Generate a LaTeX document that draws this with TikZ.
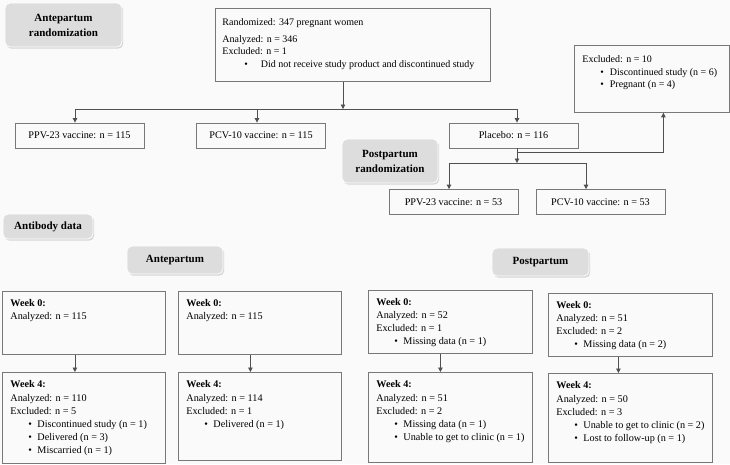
\documentclass[tikz,border=0pt]{standalone}
\usepackage{fontspec}
\setmainfont{Liberation Serif}
\usetikzlibrary{arrows.meta,shadows}

\begin{document}
\begin{tikzpicture}[x=1pt,y=-1pt,
	box/.style={draw=boxgray, line width=0.8pt, anchor=north west, inner xsep=8pt, inner ysep=8pt, font=\fontsize{10.2}{13}\selectfont},
	single/.style={draw=boxgray, line width=0.8pt, minimum width=129pt, minimum height=25pt, inner sep=0pt, font=\fontsize{10.2}{12}\selectfont},
	tag/.style={fill=tagfill, draw=white, line width=0.8pt, rounded corners=5pt, align=center, inner sep=0pt, font=\fontsize{11}{15}\selectfont\bfseries, drop shadow={shadow xshift=1.2pt, shadow yshift=-1.6pt, opacity=0.3}},
	link/.style={draw=linegray, line width=0.8pt, -{Triangle[length=4.5pt,width=4.5pt]}}]
	\definecolor{bgcol}{RGB}{250,250,250}
	\definecolor{tagfill}{RGB}{221,221,221}
	\definecolor{boxgray}{RGB}{120,120,120}
	\definecolor{linegray}{RGB}{80,80,80}

	\fill[bgcol] (0,0) rectangle (730,464);
	\useasboundingbox (0,0) rectangle (730,464);

	\node[tag, minimum width=117pt, minimum height=44pt] (anterand) at (63.5,25) {Antepartum\\randomization};
	\node[tag, minimum width=96pt, minimum height=44pt] (postrand) at (390,161) {Postpartum\\randomization};
	\node[tag, minimum width=90pt, minimum height=25pt] (antibody) at (48,226.5) {Antibody data};
	\node[tag, minimum width=96pt, minimum height=28pt] (ante) at (175,260) {Antepartum};
	\node[tag, minimum width=97pt, minimum height=28pt] (post) at (540.5,262) {Postpartum};

	\node[box, inner xsep=7pt, inner ysep=10.5pt, font=\fontsize{10}{12.5}\selectfont] (rand) at (215,8) {\parbox[t][52pt][t]{261pt}{Randomized: 347 pregnant women\\[4pt]
		Analyzed: n = 346\\
		Excluded: n = 1\\
		\hspace*{22pt}\textbullet\hspace{13pt}Did not receive study product and discontinued study}};
	\node[box, inner ysep=10.5pt, font=\fontsize{10}{12.5}\selectfont] (excl) at (574,45) {\parbox[t][46pt][t]{139pt}{Excluded: n = 10\\
		\hspace*{18pt}\textbullet\hspace{6pt}Discontinued study (n = 6)\\
		\hspace*{18pt}\textbullet\hspace{6pt}Pregnant (n = 4)}};

	\node[single] (ppv) at (79.5,135.5) {PPV-23 vaccine: n = 115};
	\node[single] (pcv) at (261,135.5) {PCV-10 vaccine: n = 115};
	\node[single] (plac) at (513.5,135.5) {Placebo: n = 116};
	\node[single] (ppvpost) at (453.5,202) {PPV-23 vaccine: n = 53};
	\node[single] (pcvpost) at (600.5,202) {PCV-10 vaccine: n = 53};

	\node[box] (wka0) at (2,291) {\parbox[t][47pt][t]{147pt}{\textbf{Week 0:}\\
		Analyzed: n = 115}};
	\node[box] (wkb0) at (178,291) {\parbox[t][47pt][t]{147pt}{\textbf{Week 0:}\\
		Analyzed: n = 115}};
	\node[box] (wkc0) at (368,290) {\parbox[t][47pt][t]{148pt}{\textbf{Week 0:}\\
		Analyzed: n = 52\\
		Excluded: n = 1\\
		\hspace*{18pt}\textbullet\hspace{5.5pt}Missing data (n = 1)}};
	\node[box] (wkd0) at (548,293) {\parbox[t][47pt][t]{148pt}{\textbf{Week 0:}\\
		Analyzed: n = 51\\
		Excluded: n = 2\\
		\hspace*{18pt}\textbullet\hspace{5.5pt}Missing data (n = 2)}};

	\node[box] (wka4) at (2,372) {\parbox[t][75pt][t]{147pt}{\textbf{Week 4:}\\[1pt]
		Analyzed: n = 110\\
		Excluded: n = 5\\
		\hspace*{18pt}\textbullet\hspace{5.5pt}Discontinued study (n = 1)\\
		\hspace*{18pt}\textbullet\hspace{5.5pt}Delivered (n = 3)\\
		\hspace*{18pt}\textbullet\hspace{5.5pt}Miscarried (n = 1)}};
	\node[box] (wkb4) at (178,372) {\parbox[t][72pt][t]{147pt}{\textbf{Week 4:}\\[1pt]
		Analyzed: n = 114\\
		Excluded: n = 1\\
		\hspace*{18pt}\textbullet\hspace{5.5pt}Delivered (n = 1)}};
	\node[box] (wkc4) at (368,372) {\parbox[t][74pt][t]{148pt}{\textbf{Week 4:}\\[1pt]
		Analyzed: n = 51\\
		Excluded: n = 2\\
		\hspace*{18pt}\textbullet\hspace{5.5pt}Missing data (n = 1)\\
		\hspace*{18pt}\textbullet\hspace{5.5pt}Unable to get to clinic (n = 1)}};
	\node[box] (wkd4) at (548,373) {\parbox[t][73pt][t]{148pt}{\textbf{Week 4:}\\[1pt]
		Analyzed: n = 50\\
		Excluded: n = 3\\
		\hspace*{18pt}\textbullet\hspace{5.5pt}Unable to get to clinic (n = 2)\\
		\hspace*{18pt}\textbullet\hspace{5.5pt}Lost to follow-up (n = 1)}};

	\coordinate (split) at (343,109);
	\draw[link] (rand.south -| split) -- (split);
	\draw[link] (split) -| ([xshift=-4.5pt]ppv.north);
	\draw[link] (split) -| ([xshift=-4pt]pcv.north);
	\draw[link] (split) -| ([xshift=3.5pt]plac.north);

	\coordinate (postsplit) at (517,163);
	\coordinate (exclsplit) at (517,152);
	\draw[link] (plac.south -| postsplit) -- (postsplit);
	\draw[link] (postsplit) -| ([xshift=-4.5pt]ppvpost.north);
	\draw[link] (postsplit) -| ([xshift=-14.5pt]pcvpost.north);
	\draw[link] (exclsplit) -| ([xshift=11.5pt]excl.south);

	\draw[link] ([xshift=-9pt]wka0.south) -- ([xshift=-9pt]wka4.north);
	\draw[link] ([xshift=-9.5pt]wkb0.south) -- ([xshift=-9.5pt]wkb4.north);
	\draw[link] ([xshift=-10pt]wkc0.south) -- ([xshift=-10pt]wkc4.north);
	\draw[link] ([xshift=-12pt]wkd0.south) -- ([xshift=-12pt]wkd4.north);
\end{tikzpicture}
\end{document}
